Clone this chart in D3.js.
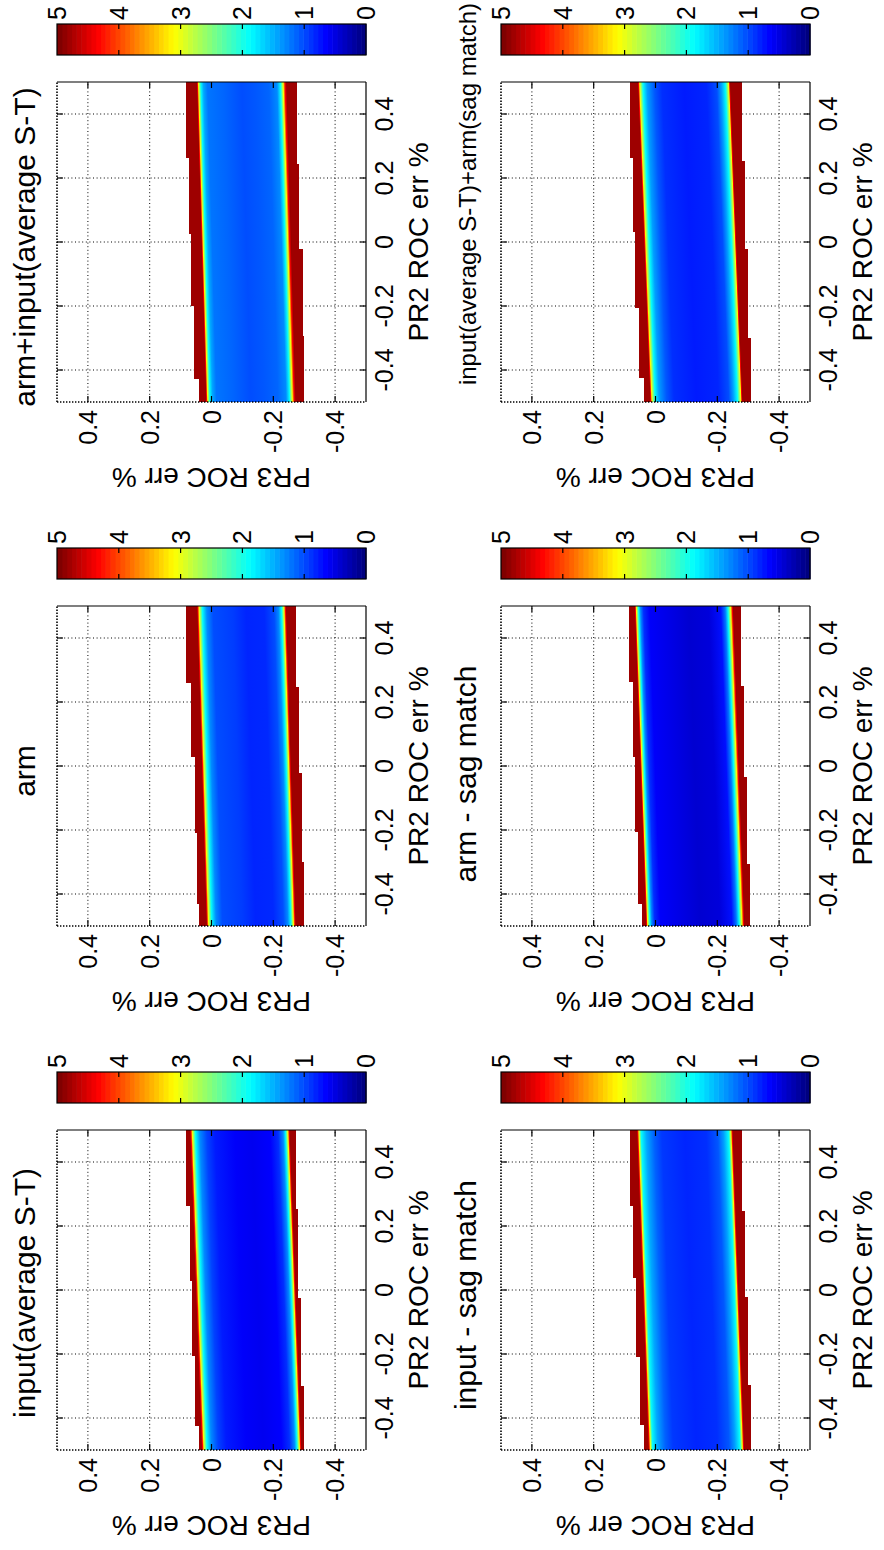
<!DOCTYPE html>
<html>
<head>
<meta charset="utf-8">
<script src="https://cdn.jsdelivr.net/npm/d3@7"></script>
<style>
  html, body { margin: 0; padding: 0; background: #fff; }
  svg { display: block; font-family: "Liberation Sans", Arial, Helvetica, sans-serif; }
</style>
</head>
<body>
<svg id="fig" width="884" height="1550"></svg>
<script>
// ---------------- data ----------------
const titles = [
  "input(average S-T)", "arm", "arm+input(average S-T)",
  "input - sag match", "arm - sag match", "input(average S-T)+arm(sag match)"
];
const xLabel = "PR2 ROC err %";
const yLabel = "PR3 ROC err %";
const axisTicks = [-0.4, -0.2, 0, 0.2, 0.4];
const colorTicks = [0, 1, 2, 3, 4, 5];
const colorLimits = [0, 5];
const colormapSize = 64;

// stepped outer boundary of the valid region, [x where the step starts, PR3 err]
const topEdges = [
  [[-0.5, 0.041], [-0.425, 0.052], [-0.206, 0.062], [0.028, 0.069], [0.2625, 0.082]],
  [[-0.5, 0.039], [-0.43, 0.048], [-0.21, 0.055], [0.028, 0.065], [0.26, 0.081]],
  [[-0.5, 0.039], [-0.427, 0.057], [-0.201, 0.066], [0.025, 0.073], [0.261, 0.084]],
  [[-0.5, 0.036], [-0.422, 0.051], [-0.21, 0.062], [0.039, 0.072], [0.262, 0.081]],
  [[-0.5, 0.043], [-0.432, 0.057], [-0.207, 0.065], [0.029, 0.072], [0.264, 0.087]],
  [[-0.5, 0.038], [-0.426, 0.054], [-0.205, 0.065], [0.032, 0.072], [0.263, 0.081]]
];
const bottomEdges = [
  [[-0.5, -0.300], [-0.30, -0.289], [-0.024, -0.281], [0.252, -0.273]],
  [[-0.5, -0.300], [-0.30, -0.292], [-0.022, -0.284], [0.247, -0.274]],
  [[-0.5, -0.300], [-0.295, -0.295], [-0.023, -0.284], [0.245, -0.277]],
  [[-0.5, -0.308], [-0.298, -0.298], [-0.023, -0.289], [0.246, -0.281]],
  [[-0.5, -0.306], [-0.306, -0.295], [-0.034, -0.285], [0.249, -0.276]],
  [[-0.5, -0.308], [-0.30, -0.298], [-0.021, -0.289], [0.253, -0.281]]
];
// smooth inner edges of the saturated zone: PR3 err at PR2 err = 0, and slope
const innerTop    = [0.0515, 0.032, 0.033, 0.042, 0.0495, 0.0375];
const innerBottom = [-0.273, -0.258, -0.2585, -0.2695, -0.2705, -0.2625];
const innerSlope  = [0.038, 0.031, 0.030, 0.0375, 0.037, 0.040];
const saturatedValue = 4.85;

// error profile across the band, [fraction from upper inner edge, value]
const profiles = [
  [[0,4.9],[0.012,4.4],[0.025,3.1],[0.055,1.9],[0.1,1.3],[0.17,0.95],[0.25,0.75],[0.45,0.6],[0.62,0.55],[0.8,0.62],[0.88,0.85],[0.93,1.3],[0.955,1.9],[0.978,3.1],[0.99,4.4],[1,4.9]],
  [[0,4.9],[0.01,4.4],[0.025,3.1],[0.06,1.9],[0.11,1.3],[0.18,1.0],[0.4,0.92],[0.55,0.8],[0.75,0.82],[0.86,1.0],[0.91,1.3],[0.945,1.9],[0.972,3.1],[0.988,4.4],[1,4.9]],
  [[0,4.9],[0.008,4.4],[0.02,3.1],[0.045,1.9],[0.075,1.45],[0.12,1.2],[0.3,1.12],[0.5,1.0],[0.65,1.05],[0.8,1.12],[0.89,1.3],[0.93,1.9],[0.96,3.1],[0.98,4.4],[1,4.9]],
  [[0,4.9],[0.01,4.4],[0.022,3.1],[0.045,1.9],[0.1,1.45],[0.18,1.1],[0.26,0.9],[0.5,0.8],[0.72,0.85],[0.84,1.05],[0.9,1.4],[0.955,1.9],[0.978,3.1],[0.99,4.4],[1,4.9]],
  [[0,4.9],[0.008,4.4],[0.018,3.1],[0.04,1.9],[0.06,1.3],[0.09,0.85],[0.15,0.6],[0.35,0.5],[0.55,0.4],[0.75,0.45],[0.87,0.7],[0.915,1.2],[0.945,1.9],[0.972,3.1],[0.988,4.4],[1,4.9]],
  [[0,4.9],[0.008,4.4],[0.02,3.1],[0.055,1.9],[0.1,1.4],[0.18,1.05],[0.26,0.85],[0.5,0.75],[0.74,0.8],[0.85,1.0],[0.9,1.4],[0.945,1.9],[0.98,3.1],[0.99,4.4],[1,4.9]]
];

// ---------------- layout (landscape figure, turned a quarter turn) ----------------
const FIG_W = 1550, FIG_H = 884;
const colLeft = [100, 624, 1148];
const rowTop = [57, 501];
const AX_W = 320, AX_H = 309;
const titleGap = [22, 25];
const titleSize = [30, 30, 30, 30, 30, 24];
const titleShift = [-3, -5, -5, -5, -8, 48];

// jet colormap
function jetInterp(t) {
  t = Math.max(0, Math.min(1, t));
  const c = v => Math.round(255 * Math.max(0, Math.min(1, v)));
  return `rgb(${c(1.5 - Math.abs(4 * t - 3))},${c(1.5 - Math.abs(4 * t - 2))},${c(1.5 - Math.abs(4 * t - 1))})`;
}
const color = d3.scaleSequential(colorLimits, jetInterp);

const svg = d3.select("#fig");
const defs = svg.append("defs");
const fig = svg.append("g").attr("transform", `translate(0,${FIG_W}) rotate(-90)`);
fig.append("rect").attr("width", FIG_W).attr("height", FIG_H).attr("fill", "#fff");

titles.forEach((title, i) => {
  const col = i % 3, row = Math.floor(i / 3);
  const left = colLeft[col], top = rowTop[row];
  const x = d3.scaleLinear([-0.5, 0.5], [left, left + AX_W]);
  const y = d3.scaleLinear([-0.5, 0.5], [top + AX_H, top]);
  const g = fig.append("g");

  // background and dotted grid
  g.append("rect").attr("x", left).attr("y", top).attr("width", AX_W).attr("height", AX_H).attr("fill", "#fff");
  const grid = g.append("g").attr("stroke", "#000").attr("stroke-width", 1).attr("stroke-dasharray", "1,2.6");
  grid.selectAll("line.gx").data(axisTicks).join("line")
    .attr("x1", d => x(d)).attr("x2", d => x(d)).attr("y1", top).attr("y2", top + AX_H);
  grid.selectAll("line.gy").data(axisTicks).join("line")
    .attr("y1", d => y(d)).attr("y2", d => y(d)).attr("x1", left).attr("x2", left + AX_W);

  // clip for the image
  const clipId = `clip${i}`;
  defs.append("clipPath").attr("id", clipId).append("rect")
    .attr("x", left).attr("y", top).attr("width", AX_W).attr("height", AX_H);
  const img = g.append("g").attr("clip-path", `url(#${clipId})`);

  // saturated zone bounded by stepped outer edges
  const steps = edge => edge.flatMap((d, k) => {
    const xEnd = k + 1 < edge.length ? edge[k + 1][0] : 0.5;
    return [[d[0], d[1]], [xEnd, d[1]]];
  });
  const outline = steps(topEdges[i]).concat(steps(bottomEdges[i]).reverse());
  const line = d3.line().x(d => x(d[0])).y(d => y(d[1]));
  img.append("path").attr("d", line(outline) + "Z")
    .attr("fill", color(saturatedValue)).attr("shape-rendering", "crispEdges");

  // smooth error band between the inner edges
  const tEdge = xv => innerTop[i] + innerSlope[i] * xv;
  const bEdge = xv => innerBottom[i] + innerSlope[i] * xv;
  const band = [[-0.5, tEdge(-0.5)], [0.5, tEdge(0.5)], [0.5, bEdge(0.5)], [-0.5, bEdge(-0.5)]];

  const cx = x(0);
  const slopePx = (y(tEdge(0.5)) - y(tEdge(-0.5))) / (x(0.5) - x(-0.5));
  const ang = Math.atan(slopePx) * 180 / Math.PI;
  const gradId = `band${i}`;
  const grad = defs.append("linearGradient").attr("id", gradId)
    .attr("gradientUnits", "userSpaceOnUse")
    .attr("x1", cx).attr("x2", cx)
    .attr("y1", y(innerTop[i])).attr("y2", y(innerBottom[i]))
    .attr("gradientTransform", `translate(${cx},0) skewY(${ang}) translate(${-cx},0)`);
  grad.selectAll("stop").data(profiles[i]).join("stop")
    .attr("offset", d => d[0]).attr("stop-color", d => color(d[1]));
  img.append("path").attr("d", line(band) + "Z").attr("fill", `url(#${gradId})`);

  // axes frame: lower and right edges solid, upper and left dotted
  const frame = g.append("g").attr("stroke", "#000").attr("fill", "none");
  frame.append("line").attr("x1", left).attr("x2", left + AX_W).attr("y1", top + AX_H).attr("y2", top + AX_H).attr("stroke-width", 1.2);
  frame.append("line").attr("x1", left + AX_W).attr("x2", left + AX_W).attr("y1", top).attr("y2", top + AX_H).attr("stroke-width", 1.2);
  frame.append("line").attr("x1", left).attr("x2", left + AX_W).attr("y1", top).attr("y2", top)
    .attr("stroke-width", 1.6).attr("stroke-dasharray", "1.4,1.6");
  frame.append("line").attr("x1", left).attr("x2", left).attr("y1", top).attr("y2", top + AX_H)
    .attr("stroke-width", 1.6).attr("stroke-dasharray", "1.4,1.6");

  // inward ticks
  const TL = 6;
  const ticks = g.append("g").attr("stroke", "#000").attr("stroke-width", 1.2);
  axisTicks.forEach(t => {
    ticks.append("line").attr("x1", x(t)).attr("x2", x(t)).attr("y1", top + AX_H).attr("y2", top + AX_H - TL);
    ticks.append("line").attr("x1", x(t)).attr("x2", x(t)).attr("y1", top).attr("y2", top + TL);
    ticks.append("line").attr("y1", y(t)).attr("y2", y(t)).attr("x1", left).attr("x2", left + TL);
    ticks.append("line").attr("y1", y(t)).attr("y2", y(t)).attr("x1", left + AX_W).attr("x2", left + AX_W - TL);
  });

  // tick labels
  g.selectAll("text.xt").data(axisTicks).join("text")
    .attr("x", d => x(d)).attr("y", top + AX_H + 27)
    .attr("text-anchor", "middle").attr("font-size", 25).text(d => String(d));
  g.selectAll("text.yt").data(axisTicks).join("text")
    .attr("x", left - 8).attr("y", d => y(d) + 9)
    .attr("text-anchor", "end").attr("font-size", 25).text(d => String(d));

  // axis labels
  g.append("text").attr("x", left + AX_W / 2).attr("y", top + AX_H + 62)
    .attr("text-anchor", "middle").attr("font-size", 28).text(xLabel);
  g.append("text").attr("transform", `translate(${left - 66},${top + AX_H / 2}) rotate(-90)`)
    .attr("text-anchor", "middle").attr("font-size", 28).text(yLabel);

  // title
  g.append("text").attr("x", left + AX_W / 2 + titleShift[i]).attr("y", top - titleGap[row])
    .attr("text-anchor", "middle").attr("font-size", titleSize[i]).text(title);

  // colorbar
  const cbL = left + AX_W + 27, cbW = 31;
  const cy = d3.scaleLinear(colorLimits, [top + AX_H, top]);
  const step = (colorLimits[1] - colorLimits[0]) / colormapSize;
  const cb = g.append("g");
  cb.selectAll("rect").data(d3.range(colormapSize)).join("rect")
    .attr("x", cbL).attr("width", cbW)
    .attr("y", k => cy((k + 1) * step))
    .attr("height", k => cy(k * step) - cy((k + 1) * step) + 0.6)
    .attr("fill", k => jetInterp(k / (colormapSize - 1)));
  cb.append("rect").attr("x", cbL).attr("y", top).attr("width", cbW).attr("height", AX_H)
    .attr("fill", "none").attr("stroke", "#000").attr("stroke-width", 1.2);
  const cbt = cb.append("g").attr("stroke", "#000").attr("stroke-width", 1.2);
  colorTicks.filter(v => v > colorLimits[0] && v < colorLimits[1]).forEach(v => {
    cbt.append("line").attr("x1", cbL).attr("x2", cbL + 5).attr("y1", cy(v)).attr("y2", cy(v));
    cbt.append("line").attr("x1", cbL + cbW).attr("x2", cbL + cbW - 5).attr("y1", cy(v)).attr("y2", cy(v));
  });
  cb.selectAll("text").data(colorTicks).join("text")
    .attr("x", cbL + cbW + 4).attr("y", v => cy(v) + 9)
    .attr("font-size", 25).text(v => String(v));
});
</script>
</body>
</html>
